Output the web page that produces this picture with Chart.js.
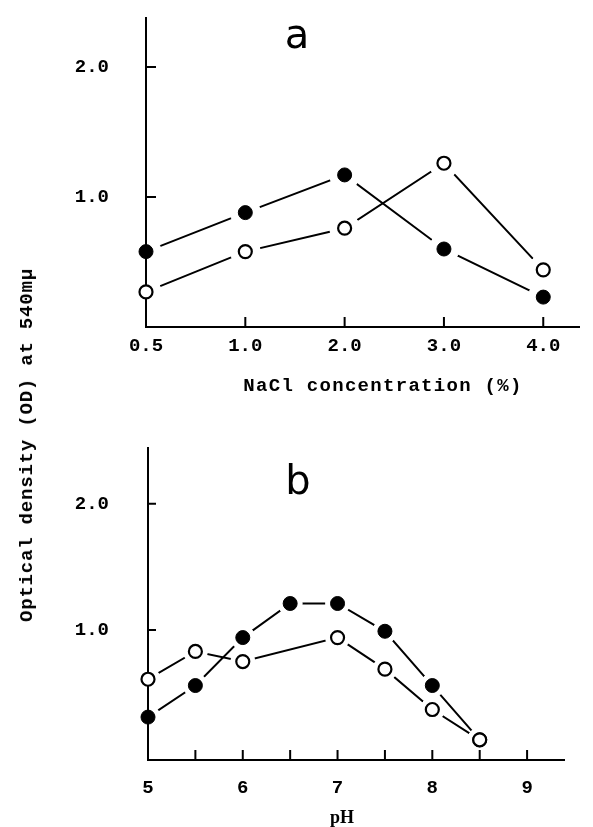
<!DOCTYPE html>
<html>
<head>
<meta charset="utf-8">
<script src="https://cdn.jsdelivr.net/npm/chart.js@4/dist/chart.umd.min.js"></script>
<style>
  html, body { margin: 0; padding: 0; background: #fff; }
  #wrap { position: relative; width: 593px; height: 827px; overflow: hidden; }
  #chartA { position: absolute; left: 0; top: 0; }
  #chartB { position: absolute; left: 0; top: 400px; }
  .ytitle {
    position: absolute; left: 27px; top: 445px;
    transform: translate(-50%, -50%) rotate(-90deg);
    white-space: nowrap; color: #000;
    font: bold 19px "Liberation Mono", monospace; letter-spacing: 0.8px;
  }
  .xtitle {
    position: absolute; transform: translate(-50%, -50%);
    white-space: nowrap; color: #000;
  }
  .panel {
    position: absolute; transform: translateX(-50%);
    font: 40px/40px "DejaVu Sans", sans-serif; color: #000;
  }
</style>
</head>
<body>
<div id="wrap">
  <canvas id="chartA" width="593" height="400"></canvas>
  <canvas id="chartB" width="593" height="427"></canvas>
  <div class="ytitle">Optical density (OD) at 540mμ</div>
  <div class="xtitle" style="left:383px; top:386px; font:bold 19px 'Liberation Mono', monospace; letter-spacing:1.3px;">NaCl concentration (%)</div>
  <div class="xtitle" style="left:342px; top:817px; font:bold 18px 'Liberation Serif', serif;">pH</div>
  <div class="panel" style="left:297px; top:14px;">a</div>
  <div class="panel" style="left:298px; top:460px;">b</div>
</div>
<script>
// ── Data ──────────────────────────────────────────────────────────────────────
// Panel a: NaCl concentration (%) — categories plotted at equal spacing
const NACL_LABELS = ['0.5', '1.0', '2.0', '3.0', '4.0'];
const NACL_FILLED = [0.58, 0.88, 1.17, 0.60, 0.23];
const NACL_OPEN   = [0.27, 0.58, 0.76, 1.26, 0.44];

// Panel b: pH
const PH_FILLED_X = [5, 5.5, 6, 6.5, 7, 7.5, 8, 8.5];
const PH_FILLED_Y = [0.31, 0.56, 0.94, 1.21, 1.21, 0.99, 0.56, 0.13];
const PH_OPEN_X   = [5, 5.5, 6, 7, 7.5, 8, 8.5];
const PH_OPEN_Y   = [0.61, 0.83, 0.75, 0.94, 0.69, 0.37, 0.13];
const PH_TICKS    = [5, 5.5, 6, 6.5, 7, 7.5, 8, 8.5, 9];
const PH_LABELS   = ['5', '', '6', '', '7', '', '8', '', '9'];

// Shared y ticks
const Y_TICKS  = [1, 2];
const Y_LABELS = ['1.0', '2.0'];

const MONO = '"Liberation Mono", monospace';

// ── Hand-drawn style axes: ticks point inward, drawn after the white halos ──
function drawAxes(chart) {
  const { ctx, chartArea: a, scales: { x, y } } = chart;
  const o = chart.options.plugins.handAxes;
  ctx.save();
  ctx.strokeStyle = '#000';
  ctx.lineWidth = 2;
  ctx.beginPath();
  ctx.moveTo(a.left, a.top);
  ctx.lineTo(a.left, a.bottom);
  ctx.lineTo(a.right, a.bottom);
  x.ticks.forEach(t => {
    const px = x.getPixelForValue(t.value);
    if (Math.abs(px - a.left) < 2) return;
    ctx.moveTo(px, a.bottom);
    ctx.lineTo(px, a.bottom - o.xLen);
  });
  y.ticks.forEach(t => {
    const py = y.getPixelForValue(t.value);
    ctx.moveTo(a.left, py);
    ctx.lineTo(a.left + o.yLen, py);
  });
  ctx.stroke();
  ctx.restore();
}

const handAxes = {
  id: 'handAxes',
  beforeDatasetsDraw(chart) { chart.$axesDone = false; },
  beforeDatasetDraw(chart, args) {
    const ds = chart.data.datasets[args.index];
    if (ds.role !== 'marker' || chart.$axesDone) return;
    chart.$axesDone = true;
    drawAxes(chart);
  },
  afterDatasetsDraw(chart) { if (!chart.$axesDone) drawAxes(chart); }
};

// Datasets are drawn last-index first, so index 0 ends up on top:
// [open marker, filled marker, open halo, filled halo, open line, filled line]
function buildSets(filledPts, openPts, haloR) {
  const copy = pts => pts.map(p => ({ x: p.x, y: p.y }));
  const line = pts => ({ data: copy(pts), role: 'line', clip: false,
    borderColor: '#000', borderWidth: 2, pointRadius: 0, tension: 0 });
  const halo = pts => ({ data: copy(pts), role: 'halo', clip: false, showLine: false,
    pointRadius: haloR, pointBackgroundColor: '#ffffff', pointBorderColor: '#ffffff', pointBorderWidth: 1 });
  const marker = (pts, filled) => ({ data: copy(pts), role: 'marker', clip: false, showLine: false,
    pointRadius: filled ? 7 : 6.5,
    pointBackgroundColor: filled ? '#000' : '#fff',
    pointBorderColor: '#000', pointBorderWidth: filled ? 1 : 2.2 });
  return [
    marker(openPts, false), marker(filledPts, true),
    halo(openPts), halo(filledPts),
    line(openPts), line(filledPts)
  ];
}

function makeChart(id, cfg) {
  const zeroPad = s => { s.paddingTop = 0; s.paddingBottom = 0; s.paddingLeft = 0; s.paddingRight = 0; };
  return new Chart(document.getElementById(id), {
    type: 'line',
    data: { datasets: cfg.datasets },
    plugins: [handAxes],
    options: {
      responsive: false,
      animation: false,
      events: [],
      layout: { padding: cfg.padding, autoPadding: false },
      plugins: {
        legend: { display: false },
        tooltip: { enabled: false },
        handAxes: cfg.axes
      },
      scales: {
        x: {
          type: 'linear', min: cfg.xMin, max: cfg.xMax,
          grid: { display: false }, border: { display: false },
          afterBuildTicks: s => { s.ticks = cfg.xTicks.map(v => ({ value: v })); },
          afterFit: s => { s.height = cfg.xHeight; zeroPad(s); },
          ticks: {
            color: '#000', padding: cfg.xPad, maxRotation: 0, autoSkip: false,
            font: { family: MONO, size: 19, weight: 'bold' },
            callback: (v, i) => cfg.xLabels[i]
          }
        },
        y: {
          type: 'linear', min: cfg.yMin, max: cfg.yMax,
          grid: { display: false }, border: { display: false },
          afterBuildTicks: s => { s.ticks = Y_TICKS.map(v => ({ value: v })); },
          afterFit: s => { s.width = cfg.yWidth; zeroPad(s); },
          ticks: {
            color: '#000', padding: cfg.yPad,
            font: { family: MONO, size: 19, weight: 'bold' },
            callback: (v, i) => Y_LABELS[i]
          }
        }
      }
    }
  });
}

// Panel a
makeChart('chartA', {
  datasets: buildSets(
    NACL_FILLED.map((v, i) => ({ x: i, y: v })),
    NACL_OPEN.map((v, i) => ({ x: i, y: v })),
    15
  ),
  padding: { top: 17, right: 13, left: 0, bottom: 0 },
  xMin: 0, xMax: 4.37, yMin: 0, yMax: 2.385,
  xTicks: NACL_LABELS.map((l, i) => i), xLabels: NACL_LABELS,
  xHeight: 73, xPad: 0, yWidth: 146, yPad: 29,
  axes: { xLen: 10, yLen: 10 }
});

// Panel b
makeChart('chartB', {
  datasets: buildSets(
    PH_FILLED_X.map((x, i) => ({ x, y: PH_FILLED_Y[i] })),
    PH_OPEN_X.map((x, i) => ({ x, y: PH_OPEN_Y[i] })),
    12
  ),
  padding: { top: 47, right: 28, left: 0, bottom: 0 },
  xMin: 5, xMax: 9.4, yMin: -0.03, yMax: 2.45,
  xTicks: PH_TICKS, xLabels: PH_LABELS,
  xHeight: 67, xPad: 9, yWidth: 148, yPad: 31,
  axes: { xLen: 10, yLen: 8 }
});
</script>
</body>
</html>
